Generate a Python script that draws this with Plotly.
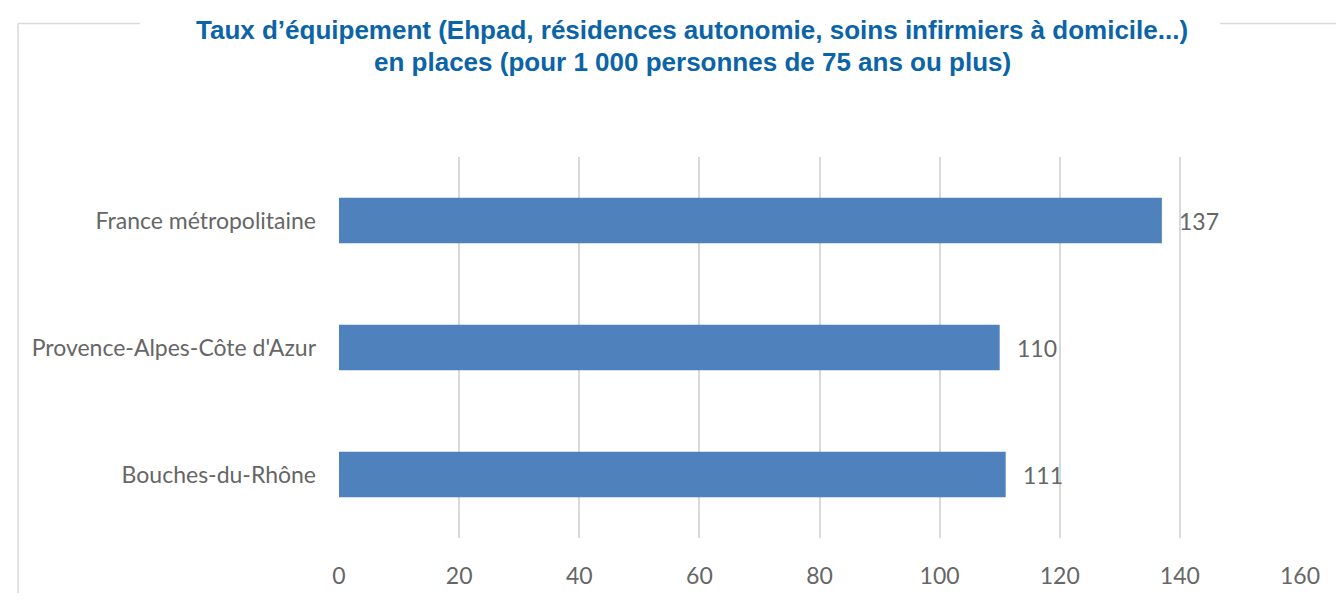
import plotly.graph_objects as go

categories = ["France métropolitaine", "Provence-Alpes-Côte d'Azur", "Bouches-du-Rhône"]
values = [137, 110, 111]
x_ticks = [0, 20, 40, 60, 80, 100, 120, 140, 160]
title_lines = ["Taux d’équipement (Ehpad, résidences autonomie, soins infirmiers à domicile...)",
               "en places (pour 1 000 personnes de 75 ans ou plus)"]

GRID = "#d9d9d9"
TXT = "#666666"
BAR = "#4f81bd"
LABEL_FONT = dict(family="Lato, Carlito, Open Sans, sans-serif", size=23, color=TXT)
TITLE_FONT = dict(family="Liberation Sans, Arial, sans-serif", size=26,
                  color="#0b64a8", weight=600)

W, H = 1336, 601
L, R, T, B = 339, 36, 157, 56
PW, PH = W - L - R, H - T - B


def px(x):
    return (x - L) / PW


def py(y):
    return (H - B - y) / PH


fig = go.Figure()
fig.add_trace(go.Bar(
    y=categories, x=values, orientation="h",
    marker=dict(color=BAR, line=dict(width=0)),
    width=0.36, hoverinfo="skip",
))

for c, v in zip(categories, values):
    fig.add_annotation(x=v, y=c, xref="x", yref="y", text=str(v),
                       showarrow=False, xanchor="left", xshift=15,
                       font=LABEL_FONT)

for line, yc in zip(title_lines, [28, 60]):
    fig.add_annotation(x=px(692), y=py(yc), xref="paper", yref="paper", text=line,
                       showarrow=False, xanchor="center", yanchor="middle",
                       font=TITLE_FONT)

fig.update_layout(
    width=W, height=H,
    margin=dict(l=L, r=R, t=T, b=B),
    paper_bgcolor="white", plot_bgcolor="white",
    showlegend=False,
    xaxis=dict(range=[0, 160], tickvals=x_ticks, showgrid=True, gridcolor=GRID,
               gridwidth=1.5, zeroline=False, showline=False,
               ticks="", ticklabelstandoff=22, tickfont=LABEL_FONT, fixedrange=True),
    yaxis=dict(autorange="reversed", showgrid=False, zeroline=False, showline=False,
               ticks="", ticklabelstandoff=22, tickfont=LABEL_FONT, fixedrange=True),
    shapes=[
        dict(type="line", xref="paper", yref="paper", x0=px(18), x1=px(18),
             y0=py(21), y1=py(H), line=dict(color=GRID, width=1.5)),
        dict(type="line", xref="paper", yref="paper", x0=px(18), x1=px(140),
             y0=py(21), y1=py(21), line=dict(color=GRID, width=1.5)),
        dict(type="line", xref="paper", yref="paper", x0=px(1220), x1=px(W),
             y0=py(21), y1=py(21), line=dict(color=GRID, width=1.5)),
    ],
)

fig.write_html("out.html", config={"displayModeBar": False},
               post_script="document.body.style.margin='0';")
